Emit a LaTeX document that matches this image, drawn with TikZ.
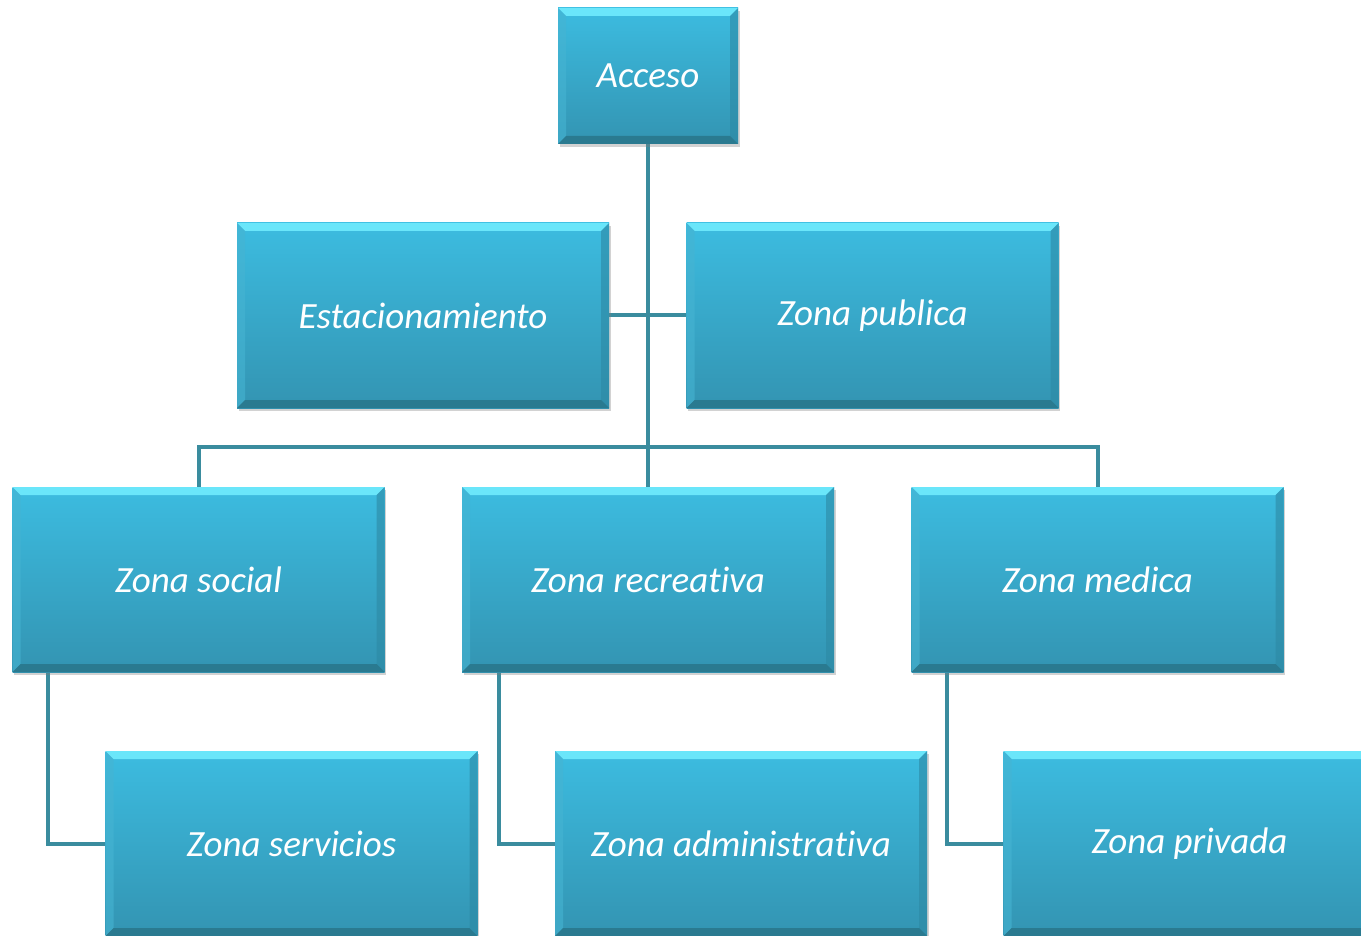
\documentclass[tikz,border=0pt]{standalone}
\usepackage{fontspec}
\setmainfont[Ligatures={NoCommon,NoRare}]{Carlito}
\usetikzlibrary{shadows,backgrounds}
\definecolor{boxtop}{HTML}{3CBCE0}
\definecolor{boxbot}{HTML}{3394B2}
\definecolor{bevtop}{HTML}{6AE6FA}
\definecolor{bevleft}{HTML}{46B4D2}
\definecolor{bevright}{HTML}{2D89A4}
\definecolor{bevbot}{HTML}{2A7A90}
\definecolor{linkc}{HTML}{3A8C9E}
\tikzset{
  zbox/.style={rectangle, minimum width=372pt, minimum height=185pt, inner sep=0pt,
    top color=boxtop, bottom color=boxbot, text=white,
    font=\fontsize{37}{44}\selectfont\itshape,
    drop shadow={opacity=0.35, shadow xshift=1.5pt, shadow yshift=-3pt},
    path picture={
      \fill[bevtop] (path picture bounding box.north west) -- (path picture bounding box.north east)
        -- ([xshift=-8pt,yshift=-8pt]path picture bounding box.north east)
        -- ([xshift=8pt,yshift=-8pt]path picture bounding box.north west) -- cycle;
      \fill[bevleft,opacity=0.6] (path picture bounding box.north west) -- ([xshift=8pt,yshift=-8pt]path picture bounding box.north west)
        -- ([xshift=8pt,yshift=8pt]path picture bounding box.south west) -- (path picture bounding box.south west) -- cycle;
      \fill[bevright,opacity=0.6] (path picture bounding box.north east) -- ([xshift=-8pt,yshift=-8pt]path picture bounding box.north east)
        -- ([xshift=-8pt,yshift=8pt]path picture bounding box.south east) -- (path picture bounding box.south east) -- cycle;
      \fill[bevbot] (path picture bounding box.south west) -- (path picture bounding box.south east)
        -- ([xshift=-8pt,yshift=8pt]path picture bounding box.south east)
        -- ([xshift=8pt,yshift=8pt]path picture bounding box.south west) -- cycle;
    }},
  link/.style={draw=linkc, line width=4pt}
}
\begin{document}
\begin{tikzpicture}[x=1pt,y=-1pt]
\path[use as bounding box, clip] (0,0) rectangle (1361,936);
\node[zbox, minimum width=180pt, minimum height=136pt] (acc) at (648,76) {Acceso};
\node[zbox] (est) at (423,315.5) {Estacionamiento};
\node[zbox] (pub) at (872.5,315.5) {Zona publica};
\node[zbox] (soc) at (198.5,579.5) {Zona social};
\node[zbox] (rec) at (648,579.5) {Zona recreativa};
\node[zbox] (med) at (1097.5,579.5) {Zona medica};
\node[zbox] (ser) at (291.5,843.5) {Zona servicios};
\node[zbox] (adm) at (741,843.5) {Zona administrativa};
\node[zbox] (pri) at (1189.5,843.5) {Zona privada};
\begin{scope}[on background layer]
\fill[white] (0,0) rectangle (1361,936);
\draw[link] (acc.south) -- (rec.north);
\draw[link] (est.east) -- (pub.west);
\draw[link] (soc.north) -- ++(0,-40) -| (med.north);
\draw[link] ([xshift=36pt]soc.south west) |- (ser.west);
\draw[link] ([xshift=37pt]rec.south west) |- (adm.west);
\draw[link] ([xshift=36pt]med.south west) |- (pri.west);
\end{scope}
\end{tikzpicture}
\end{document}
